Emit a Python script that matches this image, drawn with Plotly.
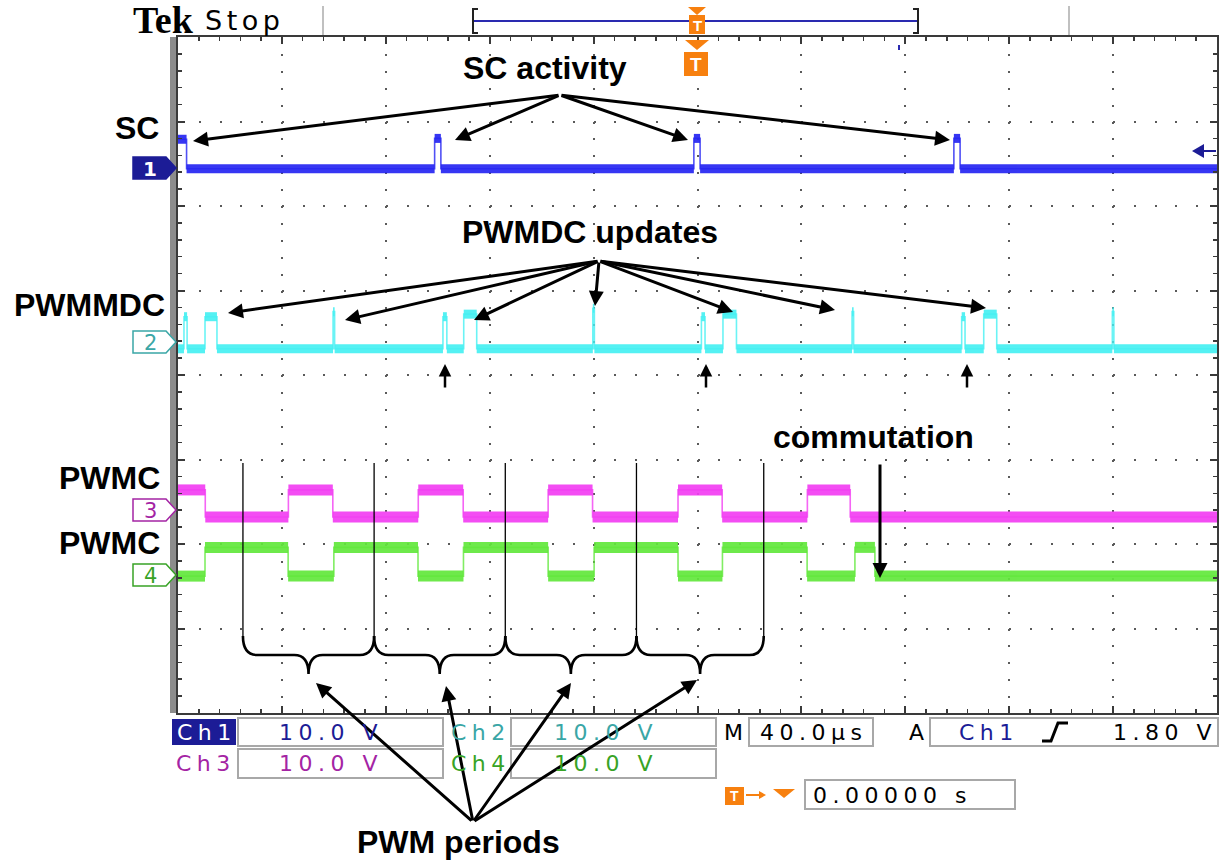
import plotly.graph_objects as go

W, H = 1222, 861

# ---------------- data ----------------
US_PER_DIV = 40          # time base M 40.0us
N_DIV_X = 10
T_END = US_PER_DIV * N_DIV_X
VOLTS_PER_DIV = 10.0     # all channels 10.0 V/div

ch_names = ["Ch1", "Ch2", "Ch3", "Ch4"]
trace_colors = ["#2626f2", "#46f0f2", "#f23ef2", "#62e83c"]
label_colors = ["#1c1c96", "#3aa6a6", "#a424a4", "#38a326"]
ch_ground_div = [2.44, 0.39, -1.60, -2.38]   # channel ground markers (divisions)
ch_marker_label = ["1", "2", "3", "4"]
band_width = [9, 9, 11, 11]

# Ch1: SC activity pulses (us, us, V)
sc_start = [0.0, 98.8, 198.6, 298.7]
sc_width = [3.3, 2.4, 2.4, 2.4]
sc_high_v = [3.5, 3.6, 3.6, 3.6]
sc_low_v = 0.0

# Ch2: PWMDC updates (us, us, V)
pwmdc_start = [2.3, 10.4, 59.7, 102.0, 110.0, 159.7, 201.5, 209.8, 259.5, 301.7, 310.2, 359.7]
pwmdc_width = [1.2, 4.6, 0.6, 1.5, 5.0, 0.6, 1.4, 5.2, 0.6, 1.3, 5.0, 0.6]
pwmdc_high_v = [3.0, 3.0, 3.6, 3.0, 3.3, 4.0, 3.0, 3.3, 3.6, 3.0, 3.3, 3.6]
pwmdc_low_v = -0.8

# Ch3 / Ch4: PWMC complementary outputs (edge times in us)
pwmc3_edges = [10.5, 42.5, 59.6, 92.5, 109.8, 142.5, 159.6, 192.5, 209.5, 242.3, 258.8]
pwmc3_start_high = True
pwmc3_low_v, pwmc3_high_v = -0.8, 2.4
pwmc4_edges = [10.4, 42.4, 60.0, 92.4, 109.9, 142.5, 160.2, 192.5, 209.6, 242.2, 260.6, 268.3]
pwmc4_start_high = False
pwmc4_low_v, pwmc4_high_v = 0.0, 3.4

# PWM period boundaries marked on the capture (us)
pwm_period_edges = [25.0, 75.5, 126.0, 176.5, 225.5]

# status bar texts
status_scale = ["10.0 V", "10.0 V", "10.0 V", "10.0 V"]
timebase_txt = "40.0µs"
trig_level_txt = "1.80 V"
trig_pos_txt = "0.00000 s"


# ---------------- helpers ----------------
def pulse_segments(starts, widths, highs, low):
    segs, t = [], 0.0
    for s, w, h in zip(starts, widths, highs):
        if s > t:
            segs.append((t, s, low))
        segs.append((max(s, 0.0), s + w, h))
        t = s + w
    segs.append((t, T_END, low))
    return segs


def edge_segments(edges, start_high, low, high):
    segs, t, state = [], 0.0, start_high
    for e in edges:
        segs.append((t, e, high if state else low))
        t, state = e, not state
    segs.append((t, T_END, high if state else low))
    return segs


def to_div(v, ch):
    return ch_ground_div[ch] + v / VOLTS_PER_DIV


channel_segs = [
    pulse_segments(sc_start, sc_width, sc_high_v, sc_low_v),
    pulse_segments(pwmdc_start, pwmdc_width, pwmdc_high_v, pwmdc_low_v),
    edge_segments(pwmc3_edges, pwmc3_start_high, pwmc3_low_v, pwmc3_high_v),
    edge_segments(pwmc4_edges, pwmc4_start_high, pwmc4_low_v, pwmc4_high_v),
]

fig = go.Figure()

for ch, segs in enumerate(channel_segs):
    # thin trace (edges)
    xs = [a for a, b, v in segs] + [T_END]
    ys = [to_div(v, ch) for a, b, v in segs] + [to_div(segs[-1][2], ch)]
    fig.add_trace(go.Scatter(x=xs, y=ys, mode="lines", line=dict(color=trace_colors[ch], width=1.6, shape="hv"),
                             hoverinfo="skip", showlegend=False, opacity=0.8))
    # thick noisy band on flat parts
    bx, by = [], []
    for a, b, v in segs:
        bx += [a, b, None]
        by += [to_div(v, ch), to_div(v, ch), None]
    fig.add_trace(go.Scatter(x=bx, y=by, mode="lines", line=dict(color=trace_colors[ch], width=band_width[ch]),
                             hoverinfo="skip", showlegend=False, opacity=0.92))

# overlay pixel axes for annotations
fig.add_trace(go.Scatter(x=[], y=[], xaxis="x2", yaxis="y2", showlegend=False, hoverinfo="skip"))

shapes = []
ann = []


def txt(x, y, s, size, color="black", family="Liberation Sans, Arial", weight="normal", xanchor="center"):
    ann.append(dict(x=x, y=y, xref="x2", yref="y2", text=s, showarrow=False, xanchor=xanchor, yanchor="middle",
                    font=dict(size=size, color=color, family=family, weight=weight)))


def arrow(tail, head, width=3):
    ann.append(dict(x=head[0], y=head[1], ax=tail[0], ay=tail[1], xref="x2", yref="y2", axref="x2", ayref="y2",
                    text="", showarrow=True, arrowhead=2, arrowsize=1.0, arrowwidth=width,
                    arrowcolor="black", standoff=0))


def rect(x0, y0, x1, y1, fill=None, line="#a8a8a8", lw=2, layer="above"):
    shapes.append(dict(type="rect", xref="x2", yref="y2", x0=x0, y0=y0, x1=x1, y1=y1,
                       fillcolor=fill if fill else "rgba(0,0,0,0)",
                       line=dict(color=line, width=lw if line else 0), layer=layer))


def path(p, fill=None, line=None, lw=2, xref="x2", yref="y2"):
    shapes.append(dict(type="path", xref=xref, yref=yref, path=p,
                       fillcolor=fill if fill else "rgba(0,0,0,0)",
                       line=dict(color=line if line else "rgba(0,0,0,0)", width=lw), layer="above"))


def sp(s, gap="\u2005"):
    return gap.join(s)


# left gray bezel of graticule
rect(170, 37, 176, 713, fill="#8c8c8c", line=None, lw=0)

# ---- header ----
txt(131, 20, "<b>Tek</b>", 38, family="Liberation Serif, Times New Roman", xanchor="left")
txt(203, 20, sp("Stop", "\u2006"), 27, family="DejaVu Sans", xanchor="left")
for xh in (323, 1069):
    shapes.append(dict(type="line", xref="x2", yref="y2", x0=xh, x1=xh, y0=6, y1=35,
                       line=dict(color="#c0c0c0", width=2), layer="above"))
shapes.append(dict(type="line", xref="x2", yref="y2", x0=474, x1=917, y0=21, y1=21,
                   line=dict(color="#2a2ab0", width=2), layer="above"))
path("M 478,9 L 473,9 L 473,33 L 478,33", line="#222", lw=2)
path("M 913,9 L 918,9 L 918,33 L 913,33", line="#222", lw=2)
ORANGE = "#f7800f"
path("M 688,7 L 706,7 L 697,15 Z", fill=ORANGE)
rect(689, 15, 705, 34, fill=ORANGE, line=None, lw=0)
txt(697, 25, "<b>T</b>", 15, color="white")
# trigger position marker below top edge
path("M 685,40 L 709,40 L 697,50 Z", fill=ORANGE)
rect(684, 52, 708, 76, fill=ORANGE, line=None, lw=0)
txt(696, 64, "<b>T</b>", 19, color="white")
shapes.append(dict(type="line", xref="x2", yref="y2", x0=899, x1=899, y0=45, y1=50,
                   line=dict(color="#2a2ab0", width=2), layer="above"))

# trigger level arrow (right)
path("M 1192,151 L 1204,144 L 1204,158 Z", fill="#1c1c96")
shapes.append(dict(type="line", xref="x2", yref="y2", x0=1203, x1=1216, y0=151, y1=151,
                   line=dict(color="#1c1c96", width=2), layer="above"))

# ---- channel ground markers ----
ymk = [168, 342, 510, 575]
for ch in range(4):
    yc = ymk[ch]
    p = f"M 133,{yc-11} L 166,{yc-11} L 176,{yc} L 166,{yc+11} L 133,{yc+11} Z"
    if ch == 0:
        path(p, fill=label_colors[ch], line=label_colors[ch], lw=1.5)
        txt(150, yc + 1, "<b>" + ch_marker_label[ch] + "</b>", 20, color="white", family="DejaVu Sans")
    else:
        path(p, fill="white", line=label_colors[ch], lw=1.5)
        txt(150, yc + 1, ch_marker_label[ch], 21, color=label_colors[ch], family="DejaVu Sans")

# ---- PWM period lines and braces ----
for e in pwm_period_edges:
    shapes.append(dict(type="line", xref="x", yref="y2", x0=e, x1=e, y0=463, y1=636,
                       line=dict(color="black", width=1.3), layer="above"))
d = 5.5
for a, b in zip(pwm_period_edges[:-1], pwm_period_edges[1:]):
    m = (a + b) / 2
    p = (f"M {a},636 Q {a},655 {a+d},655 L {m-d},655 Q {m},655 {m},674 "
         f"Q {m},655 {m+d},655 L {b-d},655 Q {b},655 {b},636")
    path(p, line="black", lw=2.6, xref="x", yref="y2")

# ---- annotation texts ----
BIG = 32
txt(545, 68, "SC activity", BIG, weight="bold")
txt(590, 232, "PWMDC updates", BIG, weight="bold")
txt(137, 128, "SC", BIG, weight="bold")
txt(89, 305, "PWMMDC", BIG, weight="bold")
txt(109, 478, "PWMC", BIG, weight="bold")
txt(109, 543, "PWMC", BIG, weight="bold")
txt(873, 437, "commutation", BIG, weight="bold")
txt(458, 842, "PWM periods", BIG, weight="bold")

# arrows: SC activity
for hd in [(193, 141), (455, 140), (688, 140), (950, 140)]:
    arrow((560, 95), hd)
# arrows: PWMDC updates
for hd in [(228, 313), (345, 320), (474, 320), (595, 306), (733, 312), (835, 310), (986, 308)]:
    arrow((599, 261), hd)
# small up arrows
for xa in (445, 706, 967):
    arrow((xa, 389), (xa, 364), width=2.5)
# commutation
arrow((880, 463), (880, 578))
# PWM periods
for hd in [(316, 683), (446, 686), (571, 683), (697, 680)]:
    arrow((473, 822), hd)

# ---- status bar ----
SF = "DejaVu Sans"
SS = 22
rect(172, 719, 236, 745, fill=label_colors[0], line=None, lw=0)
txt(204, 732, sp("Ch1"), SS, color="white", family=SF)
rect(238, 718, 443, 746)
txt(328, 732, sp(status_scale[0]), SS, color=label_colors[0], family=SF)
txt(478, 732, sp("Ch2"), SS, color=label_colors[1], family=SF)
rect(511, 718, 716, 746)
txt(603, 732, sp(status_scale[1]), SS, color=label_colors[1], family=SF)
txt(733, 732, "M", SS, family=SF)
rect(749, 718, 873, 746)
txt(811, 732, sp(timebase_txt), SS, family=SF)
txt(916, 732, "A", SS, family=SF)
rect(930, 718, 1218, 746)
txt(986, 732, sp("Ch1"), SS, color=label_colors[0], family=SF)
path("M 1042,741 L 1051,741 L 1058,723 L 1068,723", line="black", lw=3)
txt(1214, 732, sp(trig_level_txt), SS, family=SF, xanchor="right")

txt(203, 763, sp("Ch3"), SS, color=label_colors[2], family=SF)
rect(238, 749, 443, 778)
txt(328, 763, sp(status_scale[2]), SS, color=label_colors[2], family=SF)
txt(478, 763, sp("Ch4"), SS, color=label_colors[3], family=SF)
rect(511, 749, 716, 778)
txt(603, 763, sp(status_scale[3]), SS, color=label_colors[3], family=SF)

rect(725, 787, 744, 805, fill=ORANGE, line=None, lw=0)
txt(734, 796, "<b>T</b>", 14, color="white")
shapes.append(dict(type="line", xref="x2", yref="y2", x0=746, x1=764, y0=795, y1=795,
                   line=dict(color=ORANGE, width=2), layer="above"))
path("M 759,791 L 766,795 L 759,799 Z", fill=ORANGE)
path("M 773,789 L 795,789 L 784,798 Z", fill=ORANGE)
rect(805, 780, 1015, 809)
txt(811, 795, sp(trig_pos_txt), SS, family=SF, xanchor="left")

GRID = "#5a5a5a"
BORDER = "#3a3a3a"
fig.update_layout(
    width=W, height=H, autosize=False,
    margin=dict(l=0, r=0, t=0, b=0, pad=0),
    paper_bgcolor="white", plot_bgcolor="rgba(0,0,0,0)",
    showlegend=False,
    xaxis=dict(domain=[178 / W, 1217 / W], range=[0, T_END], dtick=US_PER_DIV, tick0=0,
               showgrid=True, gridcolor=GRID, gridwidth=2, griddash="2px,14.9px",
               zeroline=False, showline=True, linecolor=BORDER, linewidth=2, mirror="allticks",
               ticks="inside", ticklen=7, tickwidth=2, tickcolor=BORDER, showticklabels=False,
               minor=dict(dtick=US_PER_DIV / 5, ticks="inside", ticklen=4, tickwidth=1.5, tickcolor=BORDER),
               fixedrange=True, anchor="y"),
    yaxis=dict(domain=[1 - 713 / H, 1 - 37 / H], range=[-4, 4], dtick=1, tick0=0,
               showgrid=True, gridcolor=GRID, gridwidth=2, griddash="2px,18.78px",
               zeroline=False, showline=True, linecolor=BORDER, linewidth=2, mirror="allticks",
               ticks="inside", ticklen=7, tickwidth=2, tickcolor=BORDER, showticklabels=False,
               minor=dict(dtick=0.2, ticks="inside", ticklen=4, tickwidth=1.5, tickcolor=BORDER),
               fixedrange=True, anchor="x"),
    xaxis2=dict(domain=[0, 1], range=[0, W], visible=False, anchor="y2", fixedrange=True),
    yaxis2=dict(domain=[0, 1], range=[H, 0], visible=False, anchor="x2", fixedrange=True),
    shapes=shapes, annotations=ann,
)

fig.write_html("out.html", config={"displayModeBar": False, "staticPlot": True},
               post_script="document.body.style.margin='0';document.body.style.overflow='hidden';")
